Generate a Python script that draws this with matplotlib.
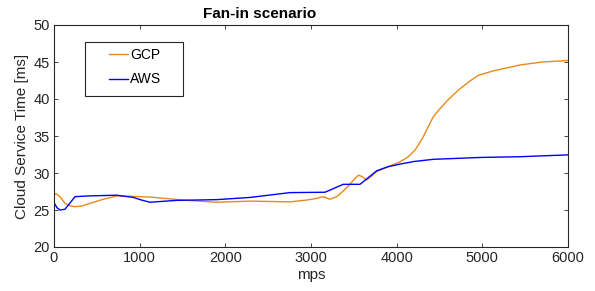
import matplotlib
matplotlib.use("Agg")
import matplotlib.pyplot as plt
from matplotlib.patches import Rectangle

plt.rcParams['font.family'] = ['Liberation Sans', 'DejaVu Sans']

gcp_x = [0, 25, 70, 128, 190, 245, 330, 420, 560, 732, 900, 1120, 1500, 1900, 2300, 2755,
         2950, 3060, 3144, 3222, 3300, 3370, 3436, 3500, 3553, 3600, 3650, 3700, 3767, 3900,
         4039, 4130, 4214, 4260, 4311, 4370, 4428, 4506, 4610, 4720, 4840, 4953, 5128, 5440,
         5700, 6000]
gcp_y = [27.05, 27.2, 26.8, 25.9, 25.55, 25.45, 25.55, 25.9, 26.4, 26.9, 26.85, 26.75, 26.35,
         26.05, 26.2, 26.1, 26.35, 26.55, 26.8, 26.45, 26.8, 27.5, 28.25, 29.1, 29.7, 29.5,
         29.05, 29.5, 30.2, 30.85, 31.5, 32.15, 33.1, 33.9, 34.9, 36.3, 37.6, 38.7, 40.0, 41.2,
         42.3, 43.2, 43.8, 44.6, 45.0, 45.2]

aws_x = [0, 35, 70, 128, 187, 245, 400, 732, 926, 1020, 1120, 1430, 1900, 2290, 2755, 3163,
         3377, 3572, 3767, 3900, 4039, 4200, 4428, 4975, 5440, 6000]
aws_y = [26.0, 25.3, 25.0, 25.1, 25.95, 26.8, 26.9, 27.0, 26.7, 26.35, 26.05, 26.3, 26.4,
         26.7, 27.35, 27.4, 28.47, 28.47, 30.3, 30.85, 31.2, 31.55, 31.85, 32.1, 32.2, 32.45]

series_labels = ["GCP", "AWS"]
x_ticks = [0, 1000, 2000, 3000, 4000, 5000, 6000]
y_ticks = [20, 25, 30, 35, 40, 45, 50]

fig = plt.figure(figsize=(5.95, 2.91), dpi=100)
ax = fig.add_axes([54/595, 44/291, 514/595, 222/291])

ax.plot(gcp_x, gcp_y, color='#E8891C', lw=1.0, label=series_labels[0])
ax.plot(aws_x, aws_y, color='#0000FF', lw=1.0, label=series_labels[1])

ax.set_xlim(0, 6000)
ax.set_ylim(20, 50)
ax.set_xticks(x_ticks)
ax.set_yticks(y_ticks)
ax.tick_params(direction='in', length=3, width=0.6, top=True, right=True,
               labelsize=10.5, colors='#262626', pad=3)
for s in ax.spines.values():
    s.set_color('#262626')
    s.set_linewidth(0.8)

ax.set_xlabel('mps', fontsize=11, color='#262626', labelpad=2)
ax.set_ylabel('Cloud Service Time [ms]', fontsize=11, color='#262626', labelpad=3)
ax.text(0.40, 1.02, 'Fan-in scenario', transform=ax.transAxes, ha='center', va='bottom',
        fontsize=11, fontweight='bold', color='black')

rect = Rectangle((31/514, (247-96)/222), 98/514, 54/222, transform=ax.transAxes,
                 facecolor='white', edgecolor='#262626', lw=0.8, zorder=4.9)
ax.add_patch(rect)
leg = ax.legend(loc='upper left', bbox_to_anchor=((109-54)/514, (247-48)/222),
                frameon=False, fontsize=10, handlelength=1.35, handletextpad=0.15,
                labelspacing=0.75, borderpad=0, borderaxespad=0)
leg.set_zorder(5)

fig.savefig('out.png', dpi=100)
